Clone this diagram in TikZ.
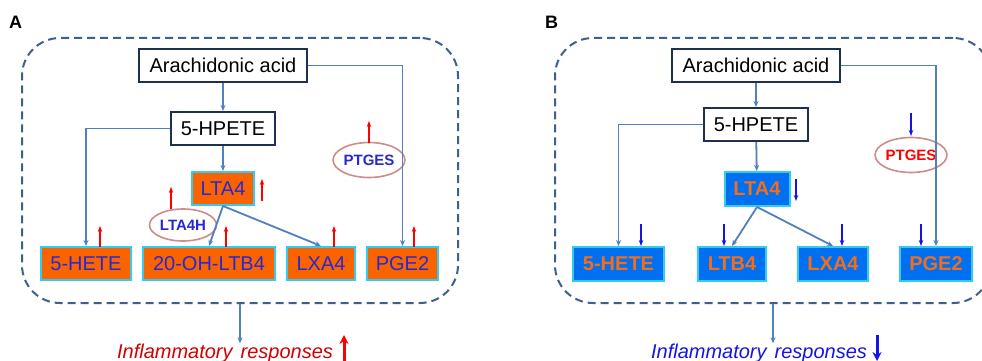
\documentclass[tikz,border=0pt]{standalone}
\usepackage{fontspec}
\setmainfont{Liberation Sans}
\usetikzlibrary{arrows.meta,shapes.geometric}

\definecolor{navyline}{RGB}{31,47,79}
\definecolor{frameblue}{RGB}{63,95,143}
\definecolor{connblue}{RGB}{80,128,190}
\definecolor{boxorange}{RGB}{250,100,0}
\definecolor{boxcyan}{RGB}{51,204,238}
\definecolor{textblue}{RGB}{40,40,210}
\definecolor{boxblue}{RGB}{0,112,240}
\definecolor{textorange}{RGB}{240,110,30}
\definecolor{ellrose}{RGB}{205,140,140}
\definecolor{markred}{RGB}{255,0,0}
\definecolor{markblue}{RGB}{20,20,230}
\definecolor{respred}{RGB}{210,0,0}

\tikzset{
  big/.style={font=\fontsize{20}{24}\selectfont},
  plainbox/.style={big, draw=navyline, line width=2pt, fill=white, inner sep=0pt,
    minimum height=33pt},
  upbox/.style={big, draw=boxcyan, line width=2pt, fill=boxorange, text=textblue,
    inner sep=0pt, minimum height=33pt},
  downbox/.style={big, draw=boxcyan, line width=2pt, fill=boxblue, text=textorange,
    inner sep=0pt, minimum height=34pt, font=\fontsize{20}{24}\selectfont\bfseries},
  enzyme/.style={ellipse, draw=ellrose, line width=1.6pt, fill=white, inner sep=0pt,
    font=\fontsize{15}{18}\selectfont\bfseries},
  frame/.style={draw=frameblue, line width=2pt, dash pattern=on 8pt off 5pt,
    rounded corners=38pt, inner sep=0pt},
  conn/.style={draw=connblue, line width=1.8pt, -{Stealth[length=6pt,width=5pt]}},
  upmark/.style={draw=markred, line width=1.6pt, -{Stealth[length=6pt,width=4.5pt]}},
  downmark/.style={draw=markblue, line width=1.6pt, -{Stealth[length=6pt,width=4.5pt]}},
  panel/.style={font=\fontsize{18}{20}\selectfont\bfseries, anchor=base west, inner sep=0pt},
  resp/.style={font=\fontsize{20}{24}\selectfont\itshape, anchor=base, inner sep=0pt},
}

\begin{document}
\begin{tikzpicture}[x=1pt,y=-1pt]
\clip (0,0) rectangle (982,361);
\fill[white] (0,0) rectangle (982,361);

% ---------------- Panel A: up-regulated pathway ----------------
\node[panel] (labA) at (9,29) {A};
\node[frame, minimum width=436pt, minimum height=265pt] (frA) at (240,170.5) {};

\node[plainbox, minimum width=168pt] (aaA) at (223,65.5) {Arachidonic acid};
\node[plainbox, minimum width=104pt] (hpA) at (223,128.5) {5-HPETE};
\node[upbox, minimum width=62pt] (ltaA) at (223,188.5) {LTA4};
\node[upbox, minimum width=90pt] (heteA) at (86,263.5) {5-HETE};
\node[upbox, minimum width=132pt] (ltbA) at (209,263.5) {20-OH-LTB4};
\node[upbox, minimum width=68pt] (lxaA) at (321,263.5) {LXA4};
\node[upbox, minimum width=71pt] (pgeA) at (402.5,263.5) {PGE2};
\node[enzyme, text=textblue, minimum width=68pt, minimum height=35pt] (ptgesA) at (369,160) {PTGES};
\node[enzyme, text=textblue, minimum width=67pt, minimum height=32pt] (lta4hA) at (183,225) {LTA4H};

\draw[conn] (aaA) -- (hpA);
\draw[conn] (aaA.east) -| (pgeA.north);
\draw[conn] (hpA.west) -| (heteA.north);
\draw[conn] (hpA) -- (ltaA);
\draw[conn] (ltaA.south) -- (ltbA.north);
\draw[conn] (ltaA.south) -- (lxaA.north);

% level marks
\draw[upmark] (262,201) -- (262,179);
\draw[upmark] (369,143) -- (369,121);
\draw[upmark] (171,209) -- (171,187);
\draw[upmark] (100,247) -- (100,226);
\draw[upmark] (226,247) -- (226,226);
\draw[upmark] (334,247) -- (334,226);
\draw[upmark] (414,247) -- (414,226);

\node[resp, text=respred] (respA) at (225,358) {Inflammatory\hspace{8pt}responses};
\draw[conn] (frA.south) -- (frA.south |- respA.north);
\draw[draw=markred, line width=3pt, -{Stealth[length=9pt,width=9pt]}] (344,361) -- (344,335);

% ---------------- Panel B: down-regulated pathway ----------------
\node[panel] (labB) at (545,29) {B};
\node[frame, minimum width=436pt, minimum height=265pt] (frB) at (773,170.5) {};

\node[plainbox, minimum width=168pt] (aaB) at (756,65.5) {Arachidonic acid};
\node[plainbox, minimum width=104pt] (hpB) at (756,124.5) {5-HPETE};
\node[downbox, minimum width=65pt] (ltaB) at (757,189) {LTA4};
\node[downbox, minimum width=91pt] (heteB) at (618.5,264) {5-HETE};
\node[downbox, minimum width=68pt] (ltbB) at (732,264) {LTB4};
\node[downbox, minimum width=70pt] (lxaB) at (833,264) {LXA4};
\node[downbox, minimum width=72pt] (pgeB) at (936,264) {PGE2};
\node[enzyme, text=markred, minimum width=69pt, minimum height=35pt] (ptgesB) at (911,155) {PTGES};

\draw[conn] (aaB) -- (hpB);
\draw[conn] (aaB.east) -| (pgeB.north);
\draw[conn] (hpB.west) -| (heteB.north);
\draw[conn] (hpB) -- (ltaB);
\draw[conn] (ltaB.south) -- (ltbB.north);
\draw[conn] (ltaB.south) -- (lxaB.north);

% level marks
\draw[downmark] (796,179) -- (796,201);
\draw[downmark] (911,113) -- (911,136);
\draw[downmark] (641,224) -- (641,246);
\draw[downmark] (724,224) -- (724,246);
\draw[downmark] (842,224) -- (842,246);
\draw[downmark] (921,224) -- (921,246);

\node[resp, text=markblue] (respB) at (759,358) {Inflammatory\hspace{8pt}responses};
\draw[conn] (frB.south) -- (frB.south |- respB.north);
\draw[draw=markblue, line width=3pt, -{Stealth[length=9pt,width=9pt]}] (877,335) -- (877,361);
\end{tikzpicture}
\end{document}
